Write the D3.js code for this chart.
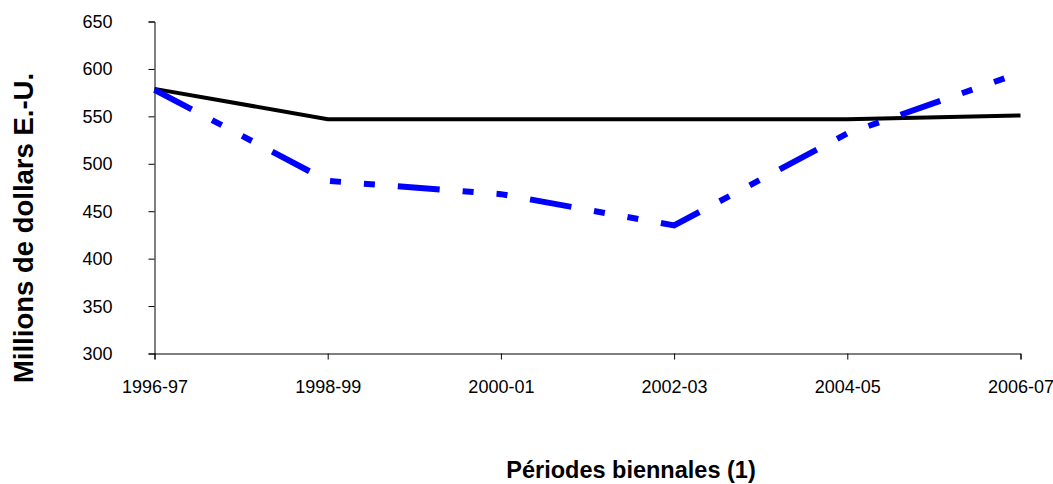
<!DOCTYPE html>
<html>
<head>
<meta charset="utf-8">
<script src="https://cdn.jsdelivr.net/npm/d3@7"></script>
<style>
    body { margin: 0; background: #fff; }
    svg { font-family: "Liberation Sans", Arial, sans-serif; }
</style>
</head>
<body>
<div id="chart"></div>
<script>
const periods = ["1996-97", "1998-99", "2000-01", "2002-03", "2004-05", "2006-07"];
const blackSeries = [579, 547, 547, 547, 547, 551];
const blueSeries = [578, 482, 468, 435, 532, 596];
const yTicks = [300, 350, 400, 450, 500, 550, 600, 650];

function drawChart() {
    var width = 1053,
        height = 484;

    var svg = d3.select("#chart")
                .append("svg")
                .attr("width", width)
                .attr("height", height);

    var x = d3.scalePoint()
              .domain(periods)
              .range([154.5, 1020.5]);

    var y = d3.scaleLinear()
              .domain([300, 650])
              .range([353.5, 21.5]);

    // y axis
    var yAxis = svg.append("g")
                .attr("transform", "translate(154.5,0)")
                .call(d3.axisLeft(y).tickValues(yTicks).tickSize(6).tickPadding(37));

    // x axis
    var xAxis = svg.append("g")
                .attr("transform", "translate(0,353.5)")
                .call(d3.axisBottom(x).tickSize(6).tickPadding(21));

    [yAxis, xAxis].forEach(function(ax) {
        ax.select(".domain").attr("stroke", "#000").attr("stroke-width", 1);
        ax.selectAll(".tick line").attr("stroke", "#000");
        ax.selectAll(".tick text")
          .attr("fill", "#000")
          .style("font-family", "'Liberation Sans', Arial, sans-serif")
          .style("font-size", "18px");
    });
    yAxis.selectAll(".tick text").attr("text-anchor", "start").attr("x", -72).attr("dy", "0.33em");

    var line = d3.line()
                 .x(function(d, i) { return x(periods[i]); })
                 .y(function(d) { return y(d); });

    svg.append("path")
       .datum(blackSeries)
       .attr("fill", "none")
       .attr("stroke", "#000")
       .attr("stroke-width", 4)
       .attr("d", line);

    svg.append("path")
       .datum(blueSeries)
       .attr("fill", "none")
       .attr("stroke", "#0000ff")
       .attr("stroke-width", 6)
       .attr("stroke-dasharray", "42,23,11,23,11,23")
       .attr("d", line);

    // axis titles
    svg.append("text")
       .attr("transform", "translate(33,228) rotate(-90)")
       .attr("text-anchor", "middle")
       .style("font-weight", "bold")
       .style("font-size", "27.5px")
       .text("Millions de dollars E.-U.");

    svg.append("text")
       .attr("x", 631)
       .attr("y", 478)
       .attr("text-anchor", "middle")
       .style("font-weight", "bold")
       .style("font-size", "23.5px")
       .text("Périodes biennales (1)");
}

drawChart();
</script>
</body>
</html>
